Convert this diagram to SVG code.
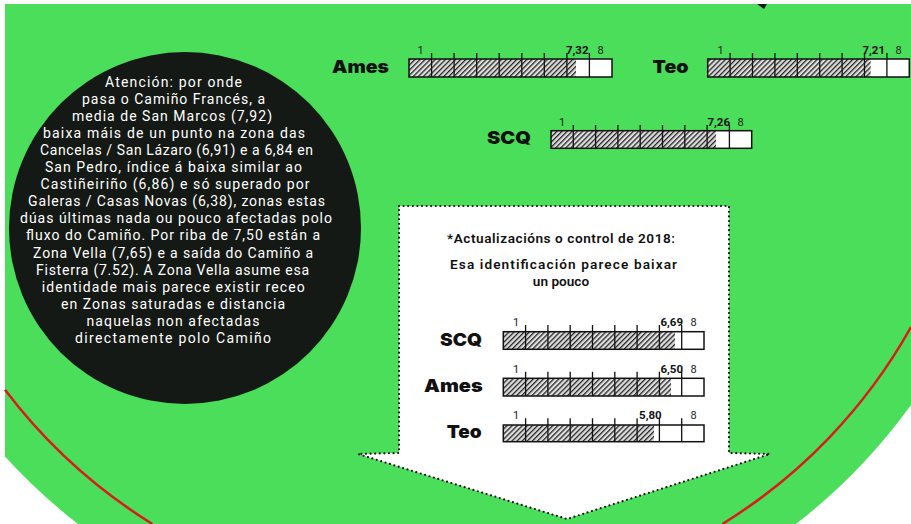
<svg xmlns="http://www.w3.org/2000/svg" width="911" height="524" viewBox="0 0 911 524">
<style>
.body{font-family:Roboto,"Liberation Sans",sans-serif;font-size:14px;fill:#ffffff;text-anchor:middle}
.head{font-family:Roboto,"Liberation Sans",sans-serif;font-size:13.6px;font-weight:600;fill:#111;text-anchor:middle}
.lab{font-family:Inter,"Open Sans",sans-serif;font-weight:900;font-size:18px;fill:#111;text-anchor:end}
.tk{font-family:Roboto,"Liberation Sans",sans-serif;font-size:11px;font-weight:400;fill:#222;text-anchor:middle}
.val{font-family:Roboto,"Liberation Sans",sans-serif;font-size:11.5px;font-weight:700;fill:#111;text-anchor:end}
.cell{fill:#fff}
.frame{fill:none;stroke:#111;stroke-width:1.5}
.ticks{fill:none;stroke:#111;stroke-width:1.3}
.red{fill:none;stroke:#d81c1c;stroke-width:2.5}
.dots{fill:#fff;stroke:#111;stroke-width:2.2;stroke-dasharray:0 4.6;stroke-linecap:round;stroke-linejoin:round}
</style>
<defs>
<pattern id="hatch" width="3.6" height="3.6" patternUnits="userSpaceOnUse" patternTransform="rotate(45)">
<rect width="3.6" height="3.6" fill="#dedede"/>
<line x1="0.6" y1="0" x2="0.6" y2="3.6" stroke="#262626" stroke-width="1.4"/>
</pattern>
</defs>
<rect width="911" height="524" fill="#ffffff"/>
<path d="M5,4 H911 V405 A585,585 0 0 1 796,524 H78 A585,585 0 0 1 5,456.5 Z" fill="#4ade5a"/>
<path d="M757,4 L767,4 L764,9 Z" fill="#151915"/>
<path class="red" d="M5,389.8 A542.8,542.8 0 0 0 152.4,524"/>
<path class="red" d="M911,327 A542.8,542.8 0 0 1 722.4,524"/>

<g id="note">
<circle cx="185" cy="228" r="176" fill="#151915"/>
<text class="body" x="173.5" y="86.5" textLength="137">Atención: por onde</text>
<text class="body" x="173.5" y="103.6" textLength="183">pasa o Camiño Francés, a</text>
<text class="body" x="172" y="120.7" textLength="200">media de San Marcos (7,92)</text>
<text class="body" x="174" y="137.8" textLength="262">baixa máis de un punto na zona das</text>
<text class="body" x="176.5" y="154.9" textLength="273">Cancelas / San Lázaro (6,91) e a 6,84 en</text>
<text class="body" x="173.5" y="172" textLength="257">San Pedro, índice á baixa similar ao</text>
<text class="body" x="175" y="189.1" textLength="269">Castiñeiriño (6,86) e só superado por</text>
<text class="body" x="176.5" y="206.2" textLength="297">Galeras / Casas Novas (6,38), zonas estas</text>
<text class="body" x="176" y="223.3" textLength="312">dúas últimas nada ou pouco afectadas polo</text>
<text class="body" x="173" y="240.4" textLength="294">fluxo do Camiño. Por riba de 7,50 están a</text>
<text class="body" x="173" y="257.5" textLength="280">Zona Vella (7,65) e a saída do Camiño a</text>
<text class="body" x="172.5" y="274.6" textLength="273">Fisterra (7.52). A Zona Vella asume esa</text>
<text class="body" x="173.3" y="291.7" textLength="263">identidade mais parece existir receo</text>
<text class="body" x="173" y="308.8" textLength="224">en Zonas saturadas e distancia</text>
<text class="body" x="173" y="325.9" textLength="173">naquelas non afectadas</text>
<text class="body" x="173" y="343" textLength="196">directamente polo Camiño</text>
</g>

<g id="bar-ames-2015">
<text class="lab" x="389" y="72.5" textLength="57" lengthAdjust="spacingAndGlyphs">Ames</text>
<rect class="cell" x="409" y="59" width="203" height="18"/>
<rect x="409" y="59" width="167" height="18" fill="url(#hatch)"/>
<path class="ticks" d="M431.6,53V77M454.1,53V77M476.7,53V77M499.2,53V77M521.8,53V77M544.3,53V77M566.9,53V77M589.4,53V77"/>
<rect class="frame" x="409" y="59" width="203" height="18"/>
<text class="tk" x="420.5" y="53.5">1</text>
<text class="val" x="588.5" y="53.5">7,32</text>
<text class="tk" x="600.5" y="53.5">8</text>
</g>

<g id="bar-teo-2015">
<text class="lab" x="688.5" y="72.5" textLength="36" lengthAdjust="spacingAndGlyphs">Teo</text>
<rect class="cell" x="707.7" y="59" width="201.6" height="18"/>
<rect x="707.7" y="59" width="163" height="18" fill="url(#hatch)"/>
<path class="ticks" d="M730.1,53V77M752.5,53V77M774.9,53V77M797.3,53V77M819.7,53V77M842.1,53V77M864.5,53V77M886.9,53V77"/>
<rect class="frame" x="707.7" y="59" width="201.6" height="18"/>
<text class="tk" x="720.5" y="53.5">1</text>
<text class="val" x="885" y="53.5">7,21</text>
<text class="tk" x="898.5" y="53.5">8</text>
</g>

<g id="bar-scq-2015">
<text class="lab" x="531" y="143.8" textLength="44" lengthAdjust="spacingAndGlyphs">SCQ</text>
<rect class="cell" x="551" y="130.7" width="200.7" height="17.6"/>
<rect x="551" y="130.7" width="165" height="17.6" fill="url(#hatch)"/>
<path class="ticks" d="M573.3,125V148.3M595.6,125V148.3M617.9,125V148.3M640.2,125V148.3M662.5,125V148.3M684.8,125V148.3M707.1,125V148.3M729.4,125V148.3"/>
<rect class="frame" x="551" y="130.7" width="200.7" height="17.6"/>
<text class="tk" x="562" y="125.5">1</text>
<text class="val" x="730" y="125.5">7,26</text>
<text class="tk" x="740.5" y="125.5">8</text>
</g>

<g id="update-box">
<path class="dots" d="M399,206 H729 V453 L770,454 L567,519 L358,454 L399,453 Z"/>
<text class="head" x="561" y="242.5" textLength="228">*Actualizacións o control de 2018:</text>
<text class="head" x="563.5" y="269" textLength="227">Esa identificación parece baixar</text>
<text class="head" x="561" y="285.5">un pouco</text>
</g>

<g id="bar-scq-2018">
<text class="lab" x="482" y="346" textLength="42" lengthAdjust="spacingAndGlyphs">SCQ</text>
<rect class="cell" x="503.3" y="331.7" width="200.7" height="17.6"/>
<rect x="503.3" y="331.7" width="171.7" height="17.6" fill="url(#hatch)"/>
<path class="ticks" d="M525.6,325V349.3M547.9,325V349.3M570.2,325V349.3M592.5,325V349.3M614.8,325V349.3M637.1,325V349.3M659.4,325V349.3M681.7,325V349.3"/>
<rect class="frame" x="503.3" y="331.7" width="200.7" height="17.6"/>
<text class="tk" x="516" y="326">1</text>
<text class="val" x="683" y="326">6,69</text>
<text class="tk" x="693.5" y="326">8</text>
</g>

<g id="bar-ames-2018">
<text class="lab" x="482.7" y="392" textLength="58.7" lengthAdjust="spacingAndGlyphs">Ames</text>
<rect class="cell" x="503.3" y="378.3" width="200.7" height="17.7"/>
<rect x="503.3" y="378.3" width="167.7" height="17.7" fill="url(#hatch)"/>
<path class="ticks" d="M525.6,371.7V396M547.9,371.7V396M570.2,371.7V396M592.5,371.7V396M614.8,371.7V396M637.1,371.7V396M659.4,371.7V396M681.7,371.7V396"/>
<rect class="frame" x="503.3" y="378.3" width="200.7" height="17.7"/>
<text class="tk" x="516" y="372.5">1</text>
<text class="val" x="683" y="372.5">6,50</text>
<text class="tk" x="693.5" y="372.5">8</text>
</g>

<g id="bar-teo-2018">
<text class="lab" x="481.7" y="438" textLength="35" lengthAdjust="spacingAndGlyphs">Teo</text>
<rect class="cell" x="503.3" y="425" width="200.7" height="16.7"/>
<rect x="503.3" y="425" width="150.7" height="16.7" fill="url(#hatch)"/>
<path class="ticks" d="M525.6,418.3V441.7M547.9,418.3V441.7M570.2,418.3V441.7M592.5,418.3V441.7M614.8,418.3V441.7M637.1,418.3V441.7M659.4,418.3V441.7M681.7,418.3V441.7"/>
<rect class="frame" x="503.3" y="425" width="200.7" height="16.7"/>
<text class="tk" x="516" y="419">1</text>
<text class="val" x="661.7" y="419">5,80</text>
<text class="tk" x="693.5" y="419">8</text>
</g>
</svg>
